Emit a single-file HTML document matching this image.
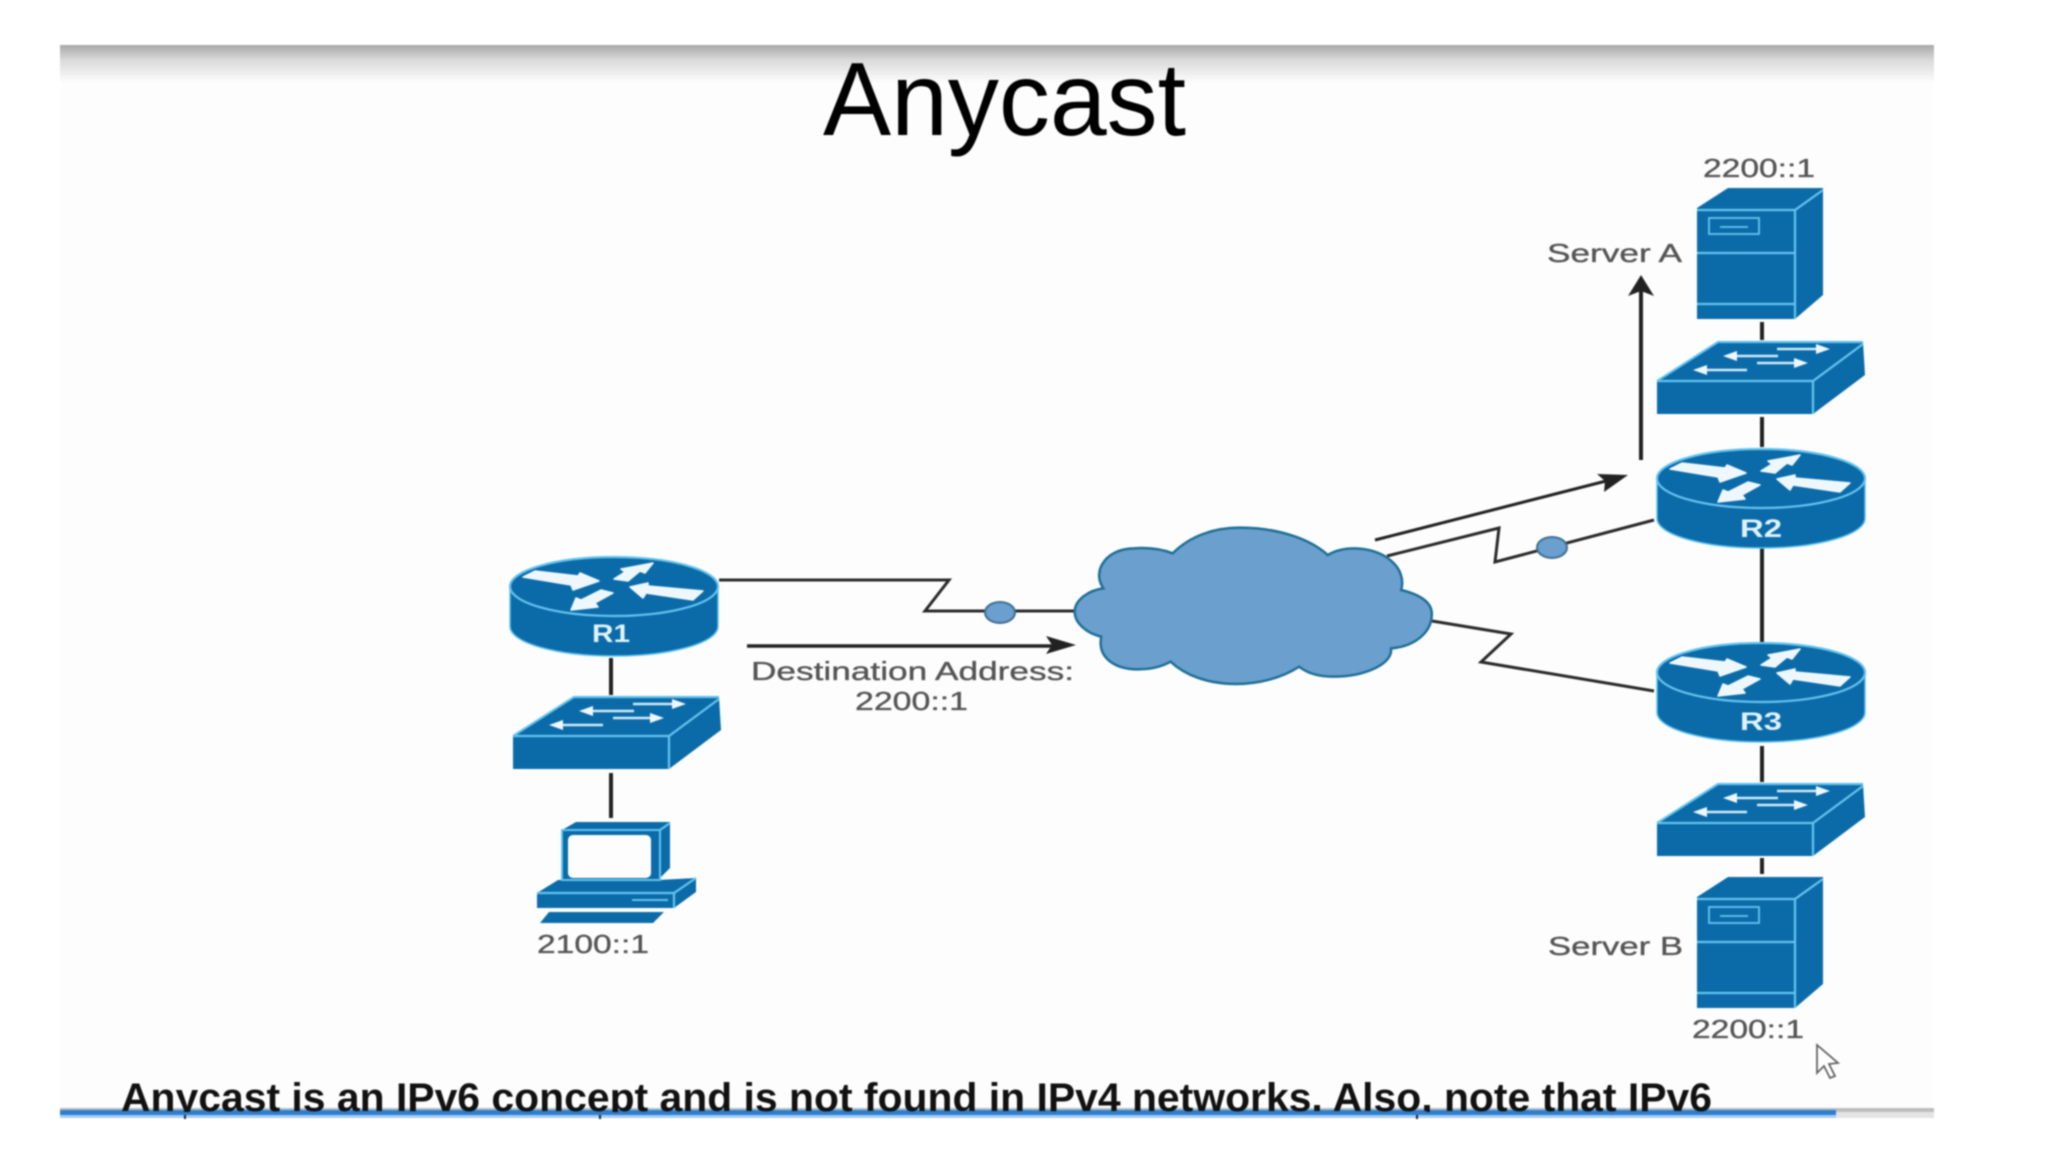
<!DOCTYPE html>
<html>
<head>
<meta charset="utf-8">
<style>
html,body{margin:0;padding:0;background:#fff;width:2048px;height:1152px;overflow:hidden}
svg{display:block;filter:blur(.8px)}
text{font-family:"Liberation Sans",sans-serif}
.lb{font-size:26px;fill:#555;stroke:#555;stroke-width:.35}
.rt{font-size:25px;font-weight:bold;fill:#dff3fb;text-anchor:middle}
.ln{stroke:#2a2a2a;fill:none;stroke-width:3}
.v{stroke:#222;fill:none;stroke-width:4}
.lt{stroke:#63c3ee;fill:none;stroke-width:2.2}
</style>
</head>
<body>
<svg width="2048" height="1152" viewBox="0 0 2048 1152" xmlns="http://www.w3.org/2000/svg">
<defs>
<linearGradient id="hd" x1="0" y1="0" x2="0" y2="1">
<stop offset="0" stop-color="#a8a8a8"/><stop offset=".4" stop-color="#dadada"/><stop offset="1" stop-color="#fdfdfd"/>
</linearGradient>
<clipPath id="cp"><rect x="0" y="1060" width="2048" height="52"/></clipPath>
<g id="router">
<path d="M1657,478.5 V518.5 A104,29.5 0 0 0 1865,518.5 V478.5 Z" fill="#0b6ba9" stroke="#63c3ee" stroke-width="1.5"/>
<ellipse cx="1761" cy="478.5" rx="104" ry="29.5" fill="#0b6ba9" stroke="#63c3ee" stroke-width="2.2"/>
<g fill="#eef8fc" stroke="#eef8fc" stroke-width="1.5" stroke-linejoin="round">
<polygon points="1670,469 1682,463 1725,468 1727,465 1746,473 1720,482 1718,477"/>
<polygon points="1761,471 1772,464 1768,461 1800,455 1792,465 1787,463 1775,473"/>
<polygon points="1777,479 1795,475 1795,478 1850,483 1840,492 1793,485 1790,490"/>
<polygon points="1718,502 1723,490 1728,492 1748,482 1760,485 1742,495 1745,499"/>
</g>
</g>
<g id="switch">
<polygon points="1657,381 1718,342 1863,342 1865,375 1813,414 1657,414" fill="#0b6ba9"/>
<path class="lt" d="M1657,381 H1813 L1863,344 M1813,381 V414 M1657,381 L1718,342 H1863"/>
<g stroke="#cfeaf6" stroke-width="2.6" fill="none">
<path d="M1777,349 H1822"/><path d="M1778,356 H1732"/><path d="M1757,363 H1800"/><path d="M1747,370 H1702"/>
</g>
<g fill="#eef8fc">
<polygon points="1830,349 1816,344 1816,354"/>
<polygon points="1723,356 1737,351 1737,361"/>
<polygon points="1808,363 1794,358 1794,368"/>
<polygon points="1693,370 1707,365 1707,375"/>
</g>
</g>
<g id="server">
<polygon points="1697,208 1728,188 1823,188 1823,295 1795,319 1697,319" fill="#0b6ba9"/>
<path class="lt" d="M1697,210 H1795 L1823,190 M1795,210 V319 M1697,253 H1795 M1697,304 H1795"/>
<rect x="1709" y="218" width="50" height="16" fill="none" stroke="#63c3ee" stroke-width="1.8"/>
<path d="M1720,227 H1748" stroke="#63c3ee" stroke-width="1.8"/>
</g>
</defs>

<!-- slide background -->
<rect x="60" y="45" width="1874" height="1072" fill="#fdfdfd"/>
<rect x="60" y="45" width="1874" height="38" fill="url(#hd)"/>

<!-- title -->
<text x="823" y="135" font-size="104" fill="#000" textLength="363" lengthAdjust="spacingAndGlyphs">Anycast</text>

<!-- vertical links -->
<path class="v" d="M1762,322 V340 M1762,417 V447 M1762,548 V642 M1762,746 V782 M1762,858 V874 M611,658 V695 M611,773 V818"/>

<!-- WAN links -->
<path class="ln" d="M719,580 H949 L925,611 H1076"/>
<path class="ln" d="M1387,556 L1499,528 L1495,562 L1654,520"/>
<path class="ln" d="M1432,621 L1511,634 L1481,662 L1654,691"/>

<!-- cloud -->
<g transform="translate(1040,460) scale(.40816,.33333)">
<path vector-effect="non-scaling-stroke" d="M85,455 C85,420 120,390 155,385 C125,330 165,265 230,265 C265,262 300,268 325,280 C370,225 430,203 490,203 C580,203 660,235 705,285 C725,270 750,265 770,265 C840,265 900,320 885,390 C935,405 960,430 960,462 C960,520 915,560 860,565 C865,615 790,650 720,650 C685,650 655,640 635,620 C590,655 535,672 480,672 C410,672 355,645 320,605 C295,622 265,628 240,628 C185,628 140,595 150,530 C115,520 85,490 85,455 Z" fill="#6a9fce" stroke="#1f6f96" stroke-width="2.5"/>
</g>

<!-- link dots -->
<ellipse cx="1000" cy="612.5" rx="15" ry="10.5" fill="#6a9fce" stroke="#3f6f92" stroke-width="2"/>
<ellipse cx="1552" cy="547.5" rx="15" ry="10.5" fill="#6a9fce" stroke="#3f6f92" stroke-width="2"/>

<!-- arrows -->
<path d="M747,646 H1055" stroke="#222" stroke-width="3.5" fill="none"/>
<polygon points="1076,645 1046,636 1052,645 1046,654" fill="#222"/>
<path d="M1375,540 L1610,480" stroke="#222" stroke-width="3" fill="none"/>
<polygon points="1628,475 1597,474 1605,481 1604,492" fill="#222"/>
<path d="M1641,460 V290" stroke="#222" stroke-width="4" fill="none"/>
<polygon points="1641,275 1628,296 1641,291 1654,296" fill="#222"/>

<!-- devices -->
<use href="#server"/>
<use href="#switch"/>
<use href="#router"/>
<use href="#router" transform="translate(0,194)"/>
<use href="#switch" transform="translate(0,442)"/>
<use href="#server" transform="translate(0,689)"/>
<use href="#router" transform="translate(-1147,108)"/>
<use href="#switch" transform="translate(-1144,355)"/>

<!-- PC -->
<polygon points="562,830 576,822 670,822 670,868 658,880 696,878 696,892 674,908 537,908 537,893 558,880 562,880" fill="#0b6ba9"/>
<rect x="562" y="830" width="98" height="50" fill="none" stroke="#63c3ee" stroke-width="2"/>
<rect x="568" y="835" width="83" height="43" rx="5" fill="#fdfdfd"/>
<path class="lt" d="M660,830 L670,823 M537,893 H674 L696,878 M674,893 V908"/>
<path d="M632,900 H668" stroke="#63c3ee" stroke-width="2"/>
<polygon points="540,923 549,912 664,912 653,923" fill="#0b6ba9"/>

<!-- router labels -->
<text class="rt" x="1761" y="537" textLength="42" lengthAdjust="spacingAndGlyphs">R2</text>
<text class="rt" x="1761" y="730" textLength="42" lengthAdjust="spacingAndGlyphs">R3</text>
<text class="rt" x="611" y="642" textLength="38" lengthAdjust="spacingAndGlyphs">R1</text>

<!-- labels -->
<text class="lb" x="1703" y="177" textLength="112" lengthAdjust="spacingAndGlyphs">2200::1</text>
<text class="lb" x="1547" y="262" textLength="135" lengthAdjust="spacingAndGlyphs">Server A</text>
<text class="lb" x="1548" y="955" textLength="135" lengthAdjust="spacingAndGlyphs">Server B</text>
<text class="lb" x="1692" y="1038" textLength="112" lengthAdjust="spacingAndGlyphs">2200::1</text>
<text class="lb" x="537" y="953" textLength="112" lengthAdjust="spacingAndGlyphs">2100::1</text>
<text class="lb" x="751" y="680" textLength="323" lengthAdjust="spacingAndGlyphs">Destination Address:</text>
<text class="lb" x="855" y="710" textLength="113" lengthAdjust="spacingAndGlyphs">2200::1</text>

<!-- cursor -->
<polygon points="1817,1045 1817,1073 1824,1066 1830,1078 1835,1076 1829,1064 1838,1063" fill="#fff" stroke="#666" stroke-width="1.8"/>

<!-- bottom bar -->
<rect x="60" y="1108" width="1874" height="4" fill="#bdbdbd"/>
<rect x="60" y="1112" width="1874" height="6" fill="#e4e4e4"/>
<rect x="60" y="1110" width="1776" height="5" fill="#2c7fd0"/>
<rect x="60" y="1115" width="1776" height="3" fill="#a9cdee"/>
<text x="121" y="1111" font-size="40" font-weight="bold" fill="#111" clip-path="url(#cp)" textLength="1591" lengthAdjust="spacingAndGlyphs">Anycast is an IPv6 concept and is not found in IPv4 networks. Also, note that IPv6</text>
<path d="M185,1115 v4 M600,1115 v4 M1417,1115 v4" stroke="#222" stroke-width="2"/>
</svg>
</body>
</html>
